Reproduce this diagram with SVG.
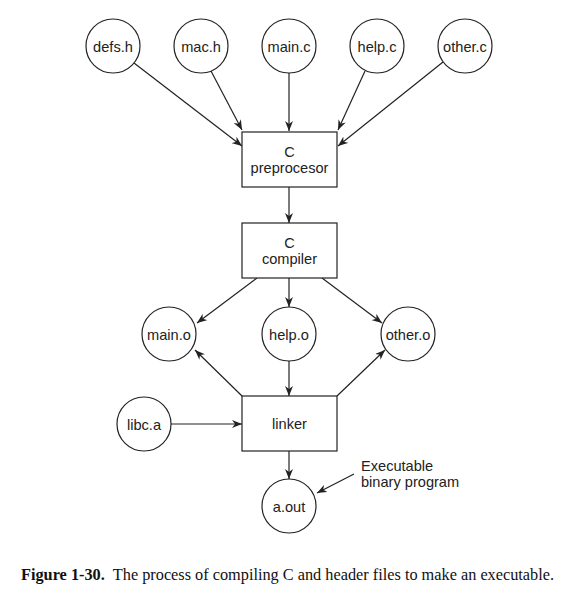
<svg xmlns="http://www.w3.org/2000/svg" width="579" height="603" viewBox="0 0 579 603">
<style>
.n{fill:#fff;stroke:#222;stroke-width:1.2}
.t{font-family:"Liberation Sans",Arial,sans-serif;font-size:14.6px;fill:#222;text-anchor:middle}
.c line{stroke:#222;stroke-width:1.2;marker-end:url(#a)}
.cap{font-family:"Liberation Serif","Times New Roman",serif;font-size:16.3px;fill:#111}
</style>
<defs>
<marker id="a" viewBox="0 0 10 8" refX="10" refY="4" markerWidth="10" markerHeight="8" markerUnits="userSpaceOnUse" orient="auto">
<path d="M0,0 L10,4 L0,8 L3,4 z" fill="#222"/>
</marker>
</defs>
<rect width="579" height="603" fill="#fff"/>
<g class="c" id="connectors">
<line x1="134" y1="63" x2="242" y2="146"/>
<line x1="211" y1="71" x2="242" y2="130"/>
<line x1="289" y1="73" x2="289" y2="131"/>
<line x1="365" y1="71" x2="338" y2="130"/>
<line x1="443" y1="62" x2="338" y2="146"/>
<line x1="289" y1="187" x2="289" y2="223"/>
<line x1="257" y1="278" x2="197" y2="323"/>
<line x1="289" y1="278" x2="289" y2="307"/>
<line x1="322" y1="278" x2="382" y2="323"/>
<line x1="242" y1="396" x2="195" y2="350"/>
<line x1="337" y1="396" x2="385" y2="350"/>
<line x1="289" y1="361" x2="289" y2="396"/>
<line x1="171" y1="424" x2="242" y2="424"/>
<line x1="289" y1="451" x2="289" y2="479"/>
<line x1="354" y1="474" x2="317" y2="493"/>
</g>
<g id="defs_h"><circle class="n" cx="113" cy="46" r="27"/><text class="t" x="113" y="52">defs.h</text></g>
<g id="mac_h"><circle class="n" cx="201" cy="46" r="27"/><text class="t" x="201" y="52">mac.h</text></g>
<g id="main_c"><circle class="n" cx="289" cy="46" r="27"/><text class="t" x="289" y="52">main.c</text></g>
<g id="help_c"><circle class="n" cx="377" cy="46" r="27"/><text class="t" x="377" y="52">help.c</text></g>
<g id="other_c"><circle class="n" cx="465" cy="46" r="27"/><text class="t" x="465" y="52">other.c</text></g>
<g id="preprocessor"><rect class="n" x="242" y="132" width="95" height="55"/><text class="t" x="289.5" y="157">C</text><text class="t" x="289.5" y="173">preprocesor</text></g>
<g id="compiler"><rect class="n" x="242" y="223" width="95" height="55"/><text class="t" x="289.5" y="248">C</text><text class="t" x="289.5" y="264">compiler</text></g>
<g id="main_o"><circle class="n" cx="169" cy="334" r="27"/><text class="t" x="169" y="340">main.o</text></g>
<g id="help_o"><circle class="n" cx="289" cy="334" r="27"/><text class="t" x="289" y="340">help.o</text></g>
<g id="other_o"><circle class="n" cx="408" cy="334" r="27"/><text class="t" x="408" y="340">other.o</text></g>
<g id="linker"><rect class="n" x="242" y="396" width="95" height="55"/><text class="t" x="289.5" y="429">linker</text></g>
<g id="libc_a"><circle class="n" cx="144" cy="424" r="27"/><text class="t" x="144" y="430">libc.a</text></g>
<g id="a_out"><circle class="n" cx="289" cy="506" r="27"/><text class="t" x="289" y="512">a.out</text></g>
<g id="label"><text class="t" style="text-anchor:start" x="361" y="471">Executable</text><text class="t" style="text-anchor:start" x="361" y="487">binary program</text></g>
<text class="cap" x="21" y="580"><tspan font-weight="bold">Figure 1-30.</tspan><tspan dx="8">The process of compiling C and header files to make an executable.</tspan></text>
</svg>
